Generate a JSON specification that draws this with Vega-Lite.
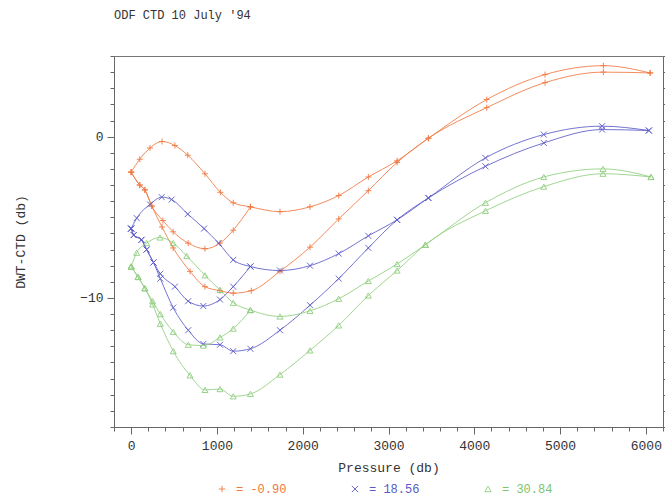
{
  "$schema": "https://vega.github.io/schema/vega-lite/v6.json",
  "autosize": "none",
  "width": 549,
  "height": 371,
  "padding": {"left": 114, "top": 56, "right": 2, "bottom": 75},
  "background": "white",
  "config": {
    "view": {"stroke": "#777", "strokeWidth": 1},
    "font": "Liberation Mono",
    "axis": {"labelFont": "Liberation Mono", "titleFont": "Liberation Mono", "labelColor": "#333", "titleColor": "#333", "domainColor": "#666", "tickColor": "#666", "grid": false, "titleFontWeight": "normal", "labelFontSize": 13, "titleFontSize": 13}
  },
  "title": {"text": "ODF CTD 10 July '94", "anchor": "start", "frame": "group", "font": "Liberation Mono", "fontSize": 12, "fontWeight": "normal", "color": "#333", "offset": 34},
  "data": {"values": [
    {"c":"-0.90","s":"A","p":0,"v":-2.2},{"c":"-0.90","s":"A","p":100,"v":-1.4},{"c":"-0.90","s":"A","p":220,"v":-0.7},{"c":"-0.90","s":"A","p":360,"v":-0.3},{"c":"-0.90","s":"A","p":510,"v":-0.55},{"c":"-0.90","s":"A","p":660,"v":-1.15},{"c":"-0.90","s":"A","p":860,"v":-2.3},{"c":"-0.90","s":"A","p":1040,"v":-3.45},{"c":"-0.90","s":"A","p":1190,"v":-4.1},{"c":"-0.90","s":"A","p":1390,"v":-4.35},{"c":"-0.90","s":"A","p":1735,"v":-4.65},{"c":"-0.90","s":"A","p":2085,"v":-4.35},{"c":"-0.90","s":"A","p":2420,"v":-3.65},{"c":"-0.90","s":"A","p":2765,"v":-2.5},{"c":"-0.90","s":"A","p":3100,"v":-1.5},{"c":"-0.90","s":"A","p":3465,"v":-0.1},{"c":"-0.90","s":"A","p":4145,"v":2.3},{"c":"-0.90","s":"A","p":4825,"v":3.85},{"c":"-0.90","s":"A","p":5505,"v":4.4},{"c":"-0.90","s":"A","p":6050,"v":3.95},
    {"c":"-0.90","s":"B","p":0,"v":-2.2},{"c":"-0.90","s":"B","p":100,"v":-3.0},{"c":"-0.90","s":"B","p":160,"v":-3.3},{"c":"-0.90","s":"B","p":240,"v":-4.3},{"c":"-0.90","s":"B","p":370,"v":-5.2},{"c":"-0.90","s":"B","p":490,"v":-5.9},{"c":"-0.90","s":"B","p":665,"v":-6.6},{"c":"-0.90","s":"B","p":860,"v":-6.95},{"c":"-0.90","s":"B","p":1036,"v":-6.6},{"c":"-0.90","s":"B","p":1190,"v":-5.8},{"c":"-0.90","s":"B","p":1390,"v":-4.35},
    {"c":"-0.90","s":"C","p":0,"v":-2.2},{"c":"-0.90","s":"C","p":100,"v":-3.0},{"c":"-0.90","s":"C","p":160,"v":-3.3},{"c":"-0.90","s":"C","p":240,"v":-4.3},{"c":"-0.90","s":"C","p":360,"v":-5.6},{"c":"-0.90","s":"C","p":490,"v":-6.9},{"c":"-0.90","s":"C","p":686,"v":-8.35},{"c":"-0.90","s":"C","p":860,"v":-9.3},{"c":"-0.90","s":"C","p":1036,"v":-9.55},{"c":"-0.90","s":"C","p":1190,"v":-9.7},{"c":"-0.90","s":"C","p":1400,"v":-9.55},{"c":"-0.90","s":"C","p":1735,"v":-8.35},{"c":"-0.90","s":"C","p":2085,"v":-6.85},{"c":"-0.90","s":"C","p":2420,"v":-5.1},{"c":"-0.90","s":"C","p":2765,"v":-3.35},{"c":"-0.90","s":"C","p":3100,"v":-1.6},{"c":"-0.90","s":"C","p":3465,"v":-0.1},{"c":"-0.90","s":"C","p":4145,"v":1.8},{"c":"-0.90","s":"C","p":4825,"v":3.35},{"c":"-0.90","s":"C","p":5505,"v":4.0},{"c":"-0.90","s":"C","p":6050,"v":3.95},
    {"c":"18.56","s":"A","p":0,"v":-5.7},{"c":"18.56","s":"A","p":65,"v":-5.05},{"c":"18.56","s":"A","p":220,"v":-4.2},{"c":"18.56","s":"A","p":356,"v":-3.75},{"c":"18.56","s":"A","p":472,"v":-3.9},{"c":"18.56","s":"A","p":660,"v":-4.8},{"c":"18.56","s":"A","p":850,"v":-5.7},{"c":"18.56","s":"A","p":1020,"v":-6.6},{"c":"18.56","s":"A","p":1190,"v":-7.64},{"c":"18.56","s":"A","p":1390,"v":-8.05},{"c":"18.56","s":"A","p":1735,"v":-8.3},{"c":"18.56","s":"A","p":2085,"v":-8.0},{"c":"18.56","s":"A","p":2420,"v":-7.25},{"c":"18.56","s":"A","p":2765,"v":-6.15},{"c":"18.56","s":"A","p":3100,"v":-5.16},{"c":"18.56","s":"A","p":3465,"v":-3.8},{"c":"18.56","s":"A","p":4130,"v":-1.32},{"c":"18.56","s":"A","p":4810,"v":0.13},{"c":"18.56","s":"A","p":5490,"v":0.65},{"c":"18.56","s":"A","p":6035,"v":0.38},
    {"c":"18.56","s":"B","p":0,"v":-5.7},{"c":"18.56","s":"B","p":30,"v":-6.1},{"c":"18.56","s":"B","p":120,"v":-6.4},{"c":"18.56","s":"B","p":180,"v":-7.0},{"c":"18.56","s":"B","p":260,"v":-7.8},{"c":"18.56","s":"B","p":340,"v":-8.5},{"c":"18.56","s":"B","p":510,"v":-9.3},{"c":"18.56","s":"B","p":665,"v":-10.2},{"c":"18.56","s":"B","p":841,"v":-10.5},{"c":"18.56","s":"B","p":1036,"v":-10.1},{"c":"18.56","s":"B","p":1190,"v":-9.3},{"c":"18.56","s":"B","p":1390,"v":-8.05},
    {"c":"18.56","s":"C","p":0,"v":-5.7},{"c":"18.56","s":"C","p":30,"v":-6.1},{"c":"18.56","s":"C","p":120,"v":-6.4},{"c":"18.56","s":"C","p":180,"v":-7.0},{"c":"18.56","s":"C","p":260,"v":-7.8},{"c":"18.56","s":"C","p":340,"v":-8.8},{"c":"18.56","s":"C","p":490,"v":-10.6},{"c":"18.56","s":"C","p":666,"v":-12.0},{"c":"18.56","s":"C","p":841,"v":-12.85},{"c":"18.56","s":"C","p":1036,"v":-12.9},{"c":"18.56","s":"C","p":1190,"v":-13.3},{"c":"18.56","s":"C","p":1390,"v":-13.15},{"c":"18.56","s":"C","p":1735,"v":-12.0},{"c":"18.56","s":"C","p":2085,"v":-10.45},{"c":"18.56","s":"C","p":2420,"v":-8.8},{"c":"18.56","s":"C","p":2765,"v":-6.9},{"c":"18.56","s":"C","p":3100,"v":-5.16},{"c":"18.56","s":"C","p":3465,"v":-3.8},{"c":"18.56","s":"C","p":4130,"v":-1.84},{"c":"18.56","s":"C","p":4810,"v":-0.39},{"c":"18.56","s":"C","p":5490,"v":0.44},{"c":"18.56","s":"C","p":6035,"v":0.38},
    {"c":"30.84","s":"A","p":0,"v":-8.05},{"c":"30.84","s":"A","p":65,"v":-7.2},{"c":"30.84","s":"A","p":180,"v":-6.6},{"c":"30.84","s":"A","p":336,"v":-6.25},{"c":"30.84","s":"A","p":491,"v":-6.6},{"c":"30.84","s":"A","p":648,"v":-7.4},{"c":"30.84","s":"A","p":861,"v":-8.6},{"c":"30.84","s":"A","p":1036,"v":-9.5},{"c":"30.84","s":"A","p":1190,"v":-10.3},{"c":"30.84","s":"A","p":1390,"v":-10.75},{"c":"30.84","s":"A","p":1735,"v":-11.15},{"c":"30.84","s":"A","p":2085,"v":-10.8},{"c":"30.84","s":"A","p":2420,"v":-10.05},{"c":"30.84","s":"A","p":2765,"v":-8.95},{"c":"30.84","s":"A","p":3100,"v":-7.9},{"c":"30.84","s":"A","p":3430,"v":-6.7},{"c":"30.84","s":"A","p":4130,"v":-4.1},{"c":"30.84","s":"A","p":4810,"v":-2.5},{"c":"30.84","s":"A","p":5500,"v":-2.0},{"c":"30.84","s":"A","p":6060,"v":-2.5},
    {"c":"30.84","s":"B","p":0,"v":-8.05},{"c":"30.84","s":"B","p":80,"v":-8.7},{"c":"30.84","s":"B","p":160,"v":-9.4},{"c":"30.84","s":"B","p":250,"v":-10.2},{"c":"30.84","s":"B","p":340,"v":-11.0},{"c":"30.84","s":"B","p":491,"v":-12.1},{"c":"30.84","s":"B","p":666,"v":-12.9},{"c":"30.84","s":"B","p":841,"v":-12.95},{"c":"30.84","s":"B","p":1036,"v":-12.45},{"c":"30.84","s":"B","p":1190,"v":-11.9},{"c":"30.84","s":"B","p":1390,"v":-10.75},
    {"c":"30.84","s":"C","p":0,"v":-8.05},{"c":"30.84","s":"C","p":80,"v":-8.7},{"c":"30.84","s":"C","p":160,"v":-9.4},{"c":"30.84","s":"C","p":250,"v":-10.4},{"c":"30.84","s":"C","p":340,"v":-11.6},{"c":"30.84","s":"C","p":491,"v":-13.3},{"c":"30.84","s":"C","p":686,"v":-14.8},{"c":"30.84","s":"C","p":861,"v":-15.7},{"c":"30.84","s":"C","p":1036,"v":-15.65},{"c":"30.84","s":"C","p":1190,"v":-16.1},{"c":"30.84","s":"C","p":1390,"v":-15.95},{"c":"30.84","s":"C","p":1735,"v":-14.75},{"c":"30.84","s":"C","p":2085,"v":-13.25},{"c":"30.84","s":"C","p":2420,"v":-11.7},{"c":"30.84","s":"C","p":2765,"v":-9.85},{"c":"30.84","s":"C","p":3100,"v":-8.3},{"c":"30.84","s":"C","p":3430,"v":-6.7},{"c":"30.84","s":"C","p":4130,"v":-4.6},{"c":"30.84","s":"C","p":4810,"v":-3.1},{"c":"30.84","s":"C","p":5500,"v":-2.3},{"c":"30.84","s":"C","p":6060,"v":-2.5}
  ]},
  "encoding": {
    "x": {"field": "p", "type": "quantitative", "scale": {"domain": [-200, 6200], "nice": false, "zero": false},
      "axis": {"title": "Pressure (db)", "values": [-200,0,200,400,600,800,1000,1200,1400,1600,1800,2000,2200,2400,2600,2800,3000,3200,3400,3600,3800,4000,4200,4400,4600,4800,5000,5200,5400,5600,5800,6000,6200],
        "labelExpr": "datum.value % 1000 === 0 ? format(datum.value, 'd') : ''", "tickSize": {"condition": {"test": "datum.value % 1000 === 0", "value": 7}, "value": 4}, "labelPadding": 5, "titlePadding": 9, "labelFlush": false}}
  },
  "layer": [
    {
      "mark": {"type": "point", "filled": false, "strokeWidth": 1, "size": 36, "opacity": 0.9},
      "encoding": {
        "y": {"field": "v", "type": "quantitative", "scale": {"domain": [-18, 5], "nice": false, "zero": false},
          "axis": {"orient": "right", "title": null, "labels": false, "values": [-18,-17,-16,-15,-14,-13,-12,-11,-10,-9,-8,-7,-6,-5,-4,-3,-2,-1,0,1,2,3,4,5], "tickSize": 4}},
        "color": {"field": "c", "type": "nominal", "scale": {"domain": ["-0.90", "18.56", "30.84"], "range": ["#f07840", "#5a5ac8", "#8fcf7f"]},
          "legend": {"orient": "none", "legendX": 102, "legendY": 427, "direction": "horizontal", "title": null, "columnPadding": 62, "labelFont": "Liberation Mono", "labelFontSize": 12, "labelOffset": 8, "symbolSize": 40, "symbolStrokeWidth": 1, "labelExpr": "'= ' + datum.label",
            "labelColor": {"expr": "datum.value === '-0.90' ? '#f07840' : datum.value === '18.56' ? '#5a5ac8' : '#7cc46c'"}}},
        "shape": {"field": "c", "type": "nominal", "scale": {"domain": ["-0.90", "18.56", "30.84"], "range": ["M-1,0L1,0M0,-1L0,1", "M-1,-1L1,1M-1,1L1,-1", "triangle-up"]}}
      }
    },
    {
      "mark": {"type": "line", "strokeWidth": 1, "opacity": 0.85, "interpolate": "monotone"},
      "encoding": {
        "y": {"field": "v", "type": "quantitative", "scale": {"domain": [-18, 5], "nice": false, "zero": false},
          "axis": {"orient": "left", "title": "DWT-CTD (db)", "values": [-18,-17,-16,-15,-14,-13,-12,-11,-10,-9,-8,-7,-6,-5,-4,-3,-2,-1,0,1,2,3,4,5],
            "labelExpr": "datum.value % 10 === 0 ? datum.label : ''", "tickSize": {"condition": {"test": "datum.value % 10 === 0", "value": 7}, "value": 4}, "labelPadding": 4, "titlePadding": 52}},
        "color": {"field": "c", "type": "nominal"},
        "detail": {"field": "s", "type": "nominal"}
      }
    }
  ],
  "resolve": {"axis": {"y": "independent"}}
}
